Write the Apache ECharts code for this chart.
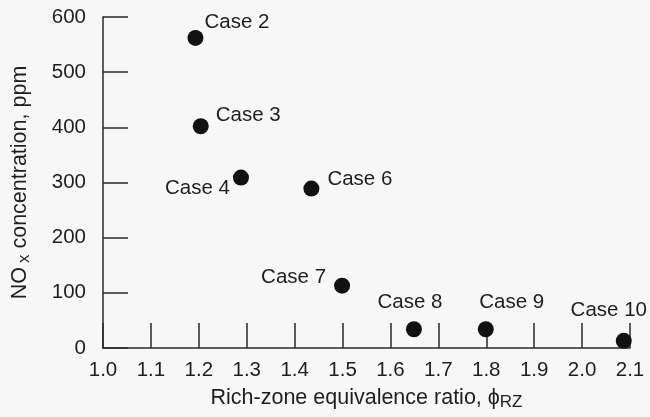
<!DOCTYPE html>
<html>
<head>
<meta charset="utf-8">
<script src="https://cdn.jsdelivr.net/npm/echarts@6/dist/echarts.min.js"></script>
<style>
html,body{margin:0;padding:0;background:#f7f7f7;}
#chart{width:650px;height:417px;}
</style>
</head>
<body>
<div id="chart"></div>
<script>
// ---- data ----
const cases = ['Case 2', 'Case 3', 'Case 4', 'Case 6', 'Case 7', 'Case 8', 'Case 9', 'Case 10'];
const phiRZ = [1.193, 1.204, 1.288, 1.435, 1.499, 1.649, 1.799, 2.087];
const noxPpm = [562, 402, 309, 289, 113, 34, 34, 13];
const xTicks = ['1.0','1.1','1.2','1.3','1.4','1.5','1.6','1.7','1.8','1.9','2.0','2.1'];
const yTicks = ['0','100','200','300','400','500','600'];

// ---- label placement (style) ----
const labelPlace = {
  'Case 2':  {align: 'left',   offset: [9, -16]},
  'Case 3':  {align: 'left',   offset: [15, -11]},
  'Case 4':  {align: 'right',  offset: [-11, 11]},
  'Case 6':  {align: 'left',   offset: [16, -9]},
  'Case 7':  {align: 'right',  offset: [-16, -8]},
  'Case 8':  {align: 'center', offset: [-4, -27]},
  'Case 9':  {align: 'center', offset: [26, -27]},
  'Case 10': {align: 'center', offset: [-15, -30]}
};

const FONT = '"Liberation Sans", Arial, Helvetica, sans-serif';
const TXT = '#1e1e1e';
const LINE = '#2a2a2a';

const chart = echarts.init(document.getElementById('chart'), null, {renderer: 'canvas'});

const points = cases.map((c, i) => ({
  name: c,
  value: [phiRZ[i], noxPpm[i]],
  label: {
    show: true,
    formatter: c,
    position: 'inside',
    align: labelPlace[c].align,
    verticalAlign: 'middle',
    offset: labelPlace[c].offset
  }
}));

chart.setOption({
  backgroundColor: '#f7f7f7',
  animation: false,
  grid: {left: 99, right: 20, top: 17, bottom: 69, containLabel: false},
  xAxis: {
    type: 'value',
    min: 1.0, max: 2.1, interval: 0.1,
    name: 'Rich-zone equivalence ratio, ϕ{sub|RZ}',
    nameLocation: 'middle',
    nameGap: 31,
    nameTextStyle: {
      fontFamily: FONT, fontSize: 21.5, color: TXT, lineHeight: 25,
      rich: {sub: {fontFamily: FONT, fontSize: 17, color: TXT, lineHeight: 12, verticalAlign: 'bottom'}}
    },
    axisLine: {show: true, lineStyle: {color: LINE, width: 1.5}},
    axisTick: {show: true, inside: true, length: 25, lineStyle: {color: LINE, width: 1.5}},
    axisLabel: {
      margin: 12, fontFamily: FONT, fontSize: 20.5, color: TXT,
      formatter: v => { const s = v.toFixed(1); return xTicks.indexOf(s) >= 0 ? s : ''; }
    },
    splitLine: {show: false}
  },
  yAxis: {
    type: 'value',
    min: 0, max: 600, interval: 100,
    name: 'NO{sub|x} concentration, ppm',
    nameLocation: 'middle',
    nameGap: 70,
    nameTextStyle: {
      fontFamily: FONT, fontSize: 21.5, color: TXT, lineHeight: 25,
      rich: {sub: {fontFamily: FONT, fontSize: 17, color: TXT, lineHeight: 12, verticalAlign: 'bottom', padding: [0, 0, 0, 4]}}
    },
    axisLine: {show: true, lineStyle: {color: LINE, width: 1.5}},
    axisTick: {show: true, inside: true, length: 25, lineStyle: {color: LINE, width: 1.5}},
    axisLabel: {
      margin: 17, fontFamily: FONT, fontSize: 20.5, color: TXT,
      formatter: v => { const s = String(Math.round(v)); return yTicks.indexOf(s) >= 0 ? s : ''; }
    },
    splitLine: {show: false}
  },
  series: [{
    type: 'scatter',
    symbol: 'circle',
    symbolSize: 16,
    itemStyle: {color: '#111111', opacity: 1},
    label: {fontFamily: FONT, fontSize: 20.5, color: TXT},
    data: points
  }]
});
</script>
</body>
</html>
